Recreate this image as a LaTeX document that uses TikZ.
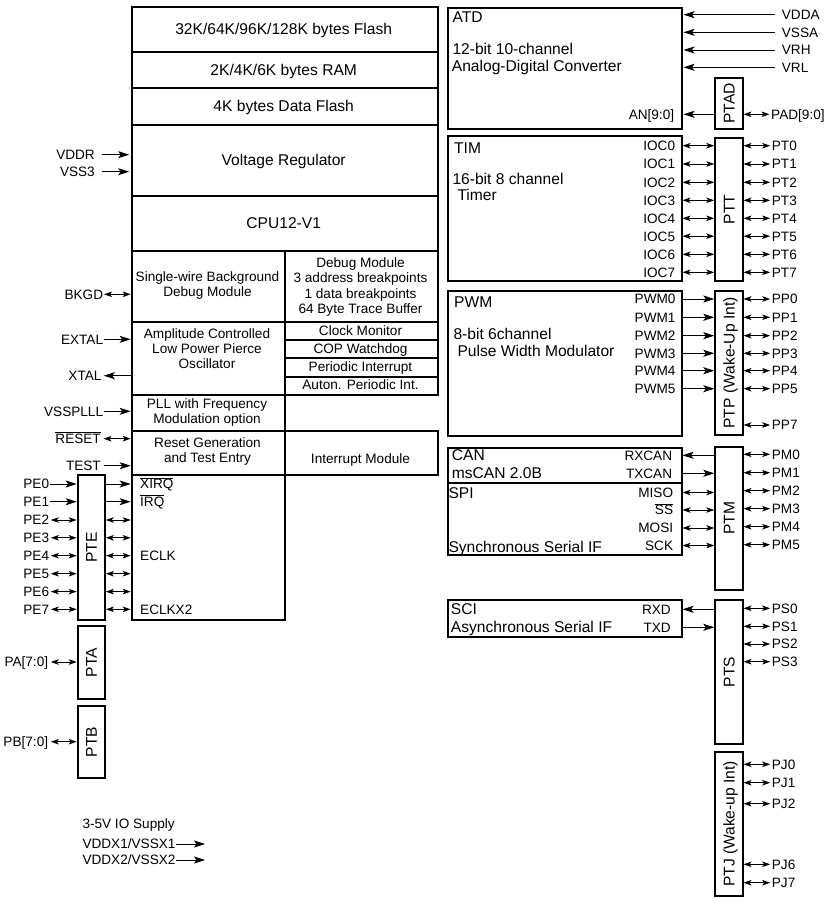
\documentclass[tikz,border=0pt]{standalone}
\usepackage{fontspec}
\setmainfont{Liberation Sans}
\usetikzlibrary{arrows.meta}
\newcommand\bigf{\fontsize{15.6}{17}\selectfont}
\newcommand\smallf{\fontsize{13.6}{15}\selectfont}
\newcommand\ovl[1]{$\overline{\hbox{#1}}$}
\newcommand\mybox[5]{\node[box, anchor=north west, minimum width={(#4)-(#2)}, minimum height={(#5)-(#3)}] (#1) at (#2,#3) {};}
\tikzset{
  box/.style={draw, line width=1.8pt, inner sep=0pt},
  bt/.style={font=\bigf, inner sep=0pt, text height=11.2pt, text depth=0pt},
  st/.style={font=\smallf, inner sep=0pt, text height=9.75pt, text depth=0pt},
  sa/.style={line width=1pt, -{Stealth[length=11pt,width=7pt,inset=2.5pt]}},
  da/.style={line width=1pt, {Stealth[length=8pt,width=5.5pt,inset=2pt]}-{Stealth[length=8pt,width=5.5pt,inset=2pt]}}
}
\begin{document}
\begin{tikzpicture}[x=1pt,y=-1pt]
\useasboundingbox (0,0) rectangle (829,902);
% ---------- main column ----------
\mybox{flash}{130.7}{6}{436.7}{51}
\mybox{ram}{130.7}{51}{436.7}{87.3}
\mybox{dflash}{130.7}{87.3}{436.7}{124}
\mybox{vreg}{130.7}{124}{436.7}{195}
\mybox{cpu}{130.7}{195}{436.7}{250}
\mybox{bdm}{130.7}{250}{284}{321.3}
\mybox{dbg}{284}{250}{436.7}{321.3}
\mybox{osc}{130.7}{321.3}{284}{393.7}
\mybox{clk}{284}{321.3}{436.7}{339.3}
\mybox{cop}{284}{339.3}{436.7}{357.3}
\mybox{pit}{284}{357.3}{436.7}{375.7}
\mybox{api}{284}{375.7}{436.7}{393.7}
\mybox{pll}{130.7}{393.7}{284}{429.7}
\mybox{rst}{130.7}{429.7}{284}{474.3}
\mybox{intm}{284}{429.7}{436.7}{474.3}
\mybox{irqb}{130.7}{474.3}{284}{619.3}
\mybox{pte}{76.7}{474.3}{104}{618.7}
\mybox{pta}{76.7}{625.3}{104}{698.3}
\mybox{ptb}{76.7}{705}{104}{777.3}
% ---------- right column ----------
\mybox{atd}{446.7}{7.3}{680.7}{128.3}
\mybox{ptad}{714.3}{76.7}{741.7}{128.3}
\mybox{tim}{446.7}{135}{680.7}{280}
\mybox{ptt}{714.3}{137.3}{741.7}{280}
\mybox{pwm}{446.7}{290}{680.7}{435}
\mybox{ptp}{714.3}{290}{741.7}{434}
\mybox{can}{446.7}{446.7}{680.7}{481.7}
\mybox{spi}{446.7}{481.7}{680.7}{554}
\mybox{ptm}{714.3}{445.7}{741.7}{589.3}
\mybox{sci}{446.7}{599.3}{680.7}{636}
\mybox{pts}{714.3}{599}{741.7}{743.3}
\mybox{ptj}{714.3}{751}{741.7}{895}
% ---------- texts in main column ----------
\node[bt] (tflash) at (283.7,29.3) {32K/64K/96K/128K bytes Flash};
\node[bt] (tram) at (283.7,70) {2K/4K/6K bytes RAM};
\node[bt] (tdflash) at (283.7,106) {4K bytes Data Flash};
\node[bt] (tvreg) at (283.7,160) {Voltage Regulator};
\node[bt] (tcpu) at (283.7,222.7) {CPU12-V1};
\node[st] (tbdm1) at (207.5,276.7) {Single-wire Background};
\node[st] (tbdm2) at (207.5,291.7) {Debug Module};
\node[st] (tdbg1) at (360.5,262.7) {Debug Module};
\node[st] (tdbg2) at (360.5,278) {3 address breakpoints};
\node[st] (tdbg3) at (360.5,293.3) {1 data breakpoints};
\node[st] (tdbg4) at (360.5,309) {64 Byte Trace Buffer};
\node[st] (tosc1) at (207,333.3) {Amplitude Controlled};
\node[st] (tosc2) at (207,348.7) {Low Power Pierce};
\node[st] (tosc3) at (207,364) {Oscillator};
\node[st] (tclk) at (360.5,330.5) {Clock Monitor};
\node[st] (tcop) at (360.5,348.5) {COP Watchdog};
\node[st] (tpit) at (360.5,366.6) {Periodic Interrupt};
\node[st] (tapi) at (360.5,384.7) {Auton. Periodic Int.};
\node[st] (tpll1) at (207,403.3) {PLL with Frequency};
\node[st] (tpll2) at (207,418.3) {Modulation option};
\node[st] (trst1) at (207.5,442.7) {Reset Generation};
\node[st] (trst2) at (207.5,458) {and Test Entry};
\node[st] (tintm) at (360.5,458.3) {Interrupt Module};
\node[st,anchor=west] (txirq) at (140,484) {\ovl{XIRQ}};
\node[st,anchor=west] (tirq) at (140,501.7) {\ovl{IRQ}};
\node[st,anchor=west] (teclk) at (140,555.7) {ECLK};
\node[st,anchor=west] (teclkx) at (140,609.3) {ECLKX2};
\node[bt,rotate=90] (tpte) at (pte.center) {PTE};
\node[bt,rotate=90] (tpta) at (pta.center) {PTA};
\node[bt,rotate=90] (tptb) at (ptb.center) {PTB};
% ---------- left pins ----------
\node[st,anchor=east] (vddr) at (95,154.7) {VDDR};
\node[st,anchor=east] (vss3) at (95,171.7) {VSS3};
\draw[sa,shorten <=6.5pt,shorten >=1.5pt] (vddr.east) -- (vddr.east -| vreg.west);
\draw[sa,shorten <=6.5pt,shorten >=1.5pt] (vss3.east) -- (vss3.east -| vreg.west);
\node[st,anchor=east] (bkgd) at (103.3,294.3) {BKGD};
\draw[da,shorten <=0.7pt] (bkgd.east) -- (bkgd.east -| bdm.west);
\node[st,anchor=east] (extal) at (103.3,339.3) {EXTAL};
\draw[sa,shorten <=0.7pt] (extal.east) -- (extal.east -| osc.west);
\node[st,anchor=east] (xtal) at (101.7,375.7) {XTAL};
\draw[sa,shorten >=2pt] (xtal.east -| osc.west) -- (xtal.east);
\node[st,anchor=east] (vsspll) at (103.3,411.3) {VSSPLLL};
\draw[sa,shorten <=0.7pt] (vsspll.east) -- (vsspll.east -| pll.west);
\node[st,anchor=east] (reset) at (101,438.7) {\ovl{RESET}};
\draw[da,shorten <=2.5pt] (reset.east) -- (reset.east -| rst.west);
\node[st,anchor=east] (test) at (101,465.7) {TEST};
\draw[sa,shorten <=2.5pt] (test.east) -- (test.east -| rst.west);
\foreach \n/\y in {0/484,1/501.7}{
  \node[st,anchor=east] (pe\n) at (49.3,\y) {PE\n};
  \draw[sa,shorten <=1pt] (pe\n.east) -- (pe\n.east -| pte.west);
  \draw[sa] (pe\n.east -| pte.east) -- (pe\n.east -| irqb.west);
}
\foreach \n/\y in {2/520,3/537.8,4/555.7,5/573.7,6/591.6,7/609.3}{
  \node[st,anchor=east] (pe\n) at (49.3,\y) {PE\n};
  \draw[da,shorten <=1.5pt] (pe\n.east) -- (pe\n.east -| pte.west);
  \draw[da] (pe\n.east -| pte.east) -- (pe\n.east -| irqb.west);
}
\node[st,anchor=east] (pa) at (48.3,662) {PA[7:0]};
\draw[da,shorten <=2.5pt] (pa.east) -- (pa.east -| pta.west);
\node[st,anchor=east] (pb) at (48.3,741.7) {PB[7:0]};
\draw[da,shorten <=2.5pt] (pb.east) -- (pb.east -| ptb.west);
% ---------- supply ----------
\node[st,anchor=west] (sup) at (82.3,823.3) {3-5V IO Supply};
\node[st,anchor=west] (vddx1) at (82.3,844) {VDDX1/VSSX1};
\node[st,anchor=west] (vddx2) at (82.3,860) {VDDX2/VSSX2};
\coordinate (vx1e) at (205,844);
\coordinate (vx2e) at (205,860);
\draw[sa,shorten <=0.5pt] (vddx1.east) -- (vx1e);
\draw[sa,shorten <=0.5pt] (vddx2.east) -- (vx2e);
% ---------- right texts ----------
\node[bt,anchor=west] (tatd) at (452.3,16.7) {ATD};
\node[bt,anchor=west] (tatd1) at (452.3,49.3) {12-bit 10-channel};
\node[bt,anchor=west] (tatd2) at (451.7,65.7) {Analog-Digital Converter};
\node[bt,anchor=west] (ttim) at (454,147.7) {TIM};
\node[bt,anchor=west] (ttim1) at (452.3,179.3) {16-bit 8 channel};
\node[bt,anchor=west] (ttim2) at (457.3,195.3) {Timer};
\node[bt,anchor=west] (tpwm) at (454,302.3) {PWM};
\node[bt,anchor=west] (tpwm1) at (453.3,334.3) {8-bit 6channel};
\node[bt,anchor=west] (tpwm2) at (457.3,350.7) {Pulse Width Modulator};
\node[bt,anchor=west] (tcan) at (451.7,455) {CAN};
\node[bt,anchor=west] (tcan1) at (451.7,473.3) {msCAN 2.0B};
\node[bt,anchor=west] (tspi) at (448.3,492.7) {SPI};
\node[bt,anchor=west] (tspi1) at (448.3,546.7) {Synchronous Serial IF};
\node[bt,anchor=west] (tsci) at (450.7,609.3) {SCI};
\node[bt,anchor=west] (tsci1) at (450.7,627.3) {Asynchronous Serial IF};
\node[bt,rotate=90] (tptad) at (ptad.center) {PTAD};
\node[bt,rotate=90] (tptt) at (ptt.center) {PTT};
\node[bt,rotate=90] (tptp) at (ptp.center) {PTP (Wake-Up Int)};
\node[bt,rotate=90] (tptm) at (ptm.center) {PTM};
\node[bt,rotate=90] (tpts) at (pts.center) {PTS};
\node[bt,rotate=90] (tptj) at (ptj.center) {PTJ (Wake-up Int)};
% ---------- ATD pins ----------
\foreach \nm/\t/\y in {vdda/VDDA/14.7,vssa/VSSA/32.3,vrh/VRH/50,vrl/VRL/67.3}{
  \node[st,anchor=west] (\nm) at (781.7,\y) {\t};
  \draw[sa,shorten <=6.5pt,shorten >=1pt] (\nm.west) -- (\nm.west -| atd.east);
}
\node[st,anchor=east] (an) at (674.3,114.3) {AN[9:0]};
\draw[sa,shorten >=1pt] (an.east -| ptad.west) -- (an.east -| atd.east);
\node[st,anchor=west] (pad) at (771,114.3) {PAD[9:0]};
\draw[da,shorten >=1.5pt] (pad.west -| ptad.east) -- (pad.west);
% ---------- TIM ----------
\foreach \n/\y in {0/145.7,1/164,2/182.3,3/200.3,4/218.3,5/236.2,6/254.3,7/272.3}{
  \node[st,anchor=east] (ioc\n) at (675.3,\y) {IOC\n};
  \draw[da] (ioc\n.east -| tim.east) -- (ioc\n.east -| ptt.west);
  \node[st,anchor=west] (pt\n) at (771.7,\y) {PT\n};
  \draw[da,shorten >=1.5pt] (pt\n.west -| ptt.east) -- (pt\n.west);
}
% ---------- PWM ----------
\foreach \n/\y in {0/299,1/317.3,2/335.7,3/353.3,4/370.7,5/388.7}{
  \node[st,anchor=east] (pwm\n) at (675.7,\y) {PWM\n};
  \draw[sa] (pwm\n.east -| pwm.east) -- (pwm\n.east -| ptp.west);
  \node[st,anchor=west] (pp\n) at (771.7,\y) {PP\n};
  \draw[da,shorten >=1.5pt] (pp\n.west -| ptp.east) -- (pp\n.west);
}
\node[st,anchor=west] (pp7) at (771.7,425) {PP7};
\draw[da,shorten >=1.5pt] (pp7.west -| ptp.east) -- (pp7.west);
% ---------- CAN / SPI ----------
\node[st,anchor=east] (rxcan) at (672.3,455.3) {RXCAN};
\draw[sa] (rxcan.east -| ptm.west) -- (rxcan.east -| can.east);
\node[st,anchor=east] (txcan) at (672.3,473.3) {TXCAN};
\draw[sa] (txcan.east -| can.east) -- (txcan.east -| ptm.west);
\foreach \nm/\t/\y in {miso/MISO/492.5,ss/\ovl{SS}/510,mosi/MOSI/528,sck/SCK/545.5}{
  \node[st,anchor=east] (\nm) at (673.3,\y) {\t};
  \draw[da] (\nm.east -| spi.east) -- (\nm.east -| ptm.west);
}
\foreach \n/\y in {0/454.3,1/472.7,2/490.7,3/508.7,4/526.7,5/544.7}{
  \node[st,anchor=west] (pm\n) at (771.7,\y) {PM\n};
  \draw[da,shorten >=1.5pt] (pm\n.west -| ptm.east) -- (pm\n.west);
}
% ---------- SCI ----------
\node[st,anchor=east] (rxd) at (671,609.3) {RXD};
\draw[sa] (rxd.east -| pts.west) -- (rxd.east -| sci.east);
\node[st,anchor=east] (txd) at (671,627.3) {TXD};
\draw[sa] (txd.east -| sci.east) -- (txd.east -| pts.west);
\foreach \n/\y in {0/608.3,1/626.3,2/644,3/661.7}{
  \node[st,anchor=west] (ps\n) at (771.7,\y) {PS\n};
  \draw[da,shorten >=1.5pt] (ps\n.west -| pts.east) -- (ps\n.west);
}
\foreach \n/\y in {0/764.3,1/782.7,2/803.7,6/864.3,7/882.7}{
  \node[st,anchor=west] (pj\n) at (771.7,\y) {PJ\n};
  \draw[da,shorten >=1.5pt] (pj\n.west -| ptj.east) -- (pj\n.west);
}
\end{tikzpicture}
\end{document}
